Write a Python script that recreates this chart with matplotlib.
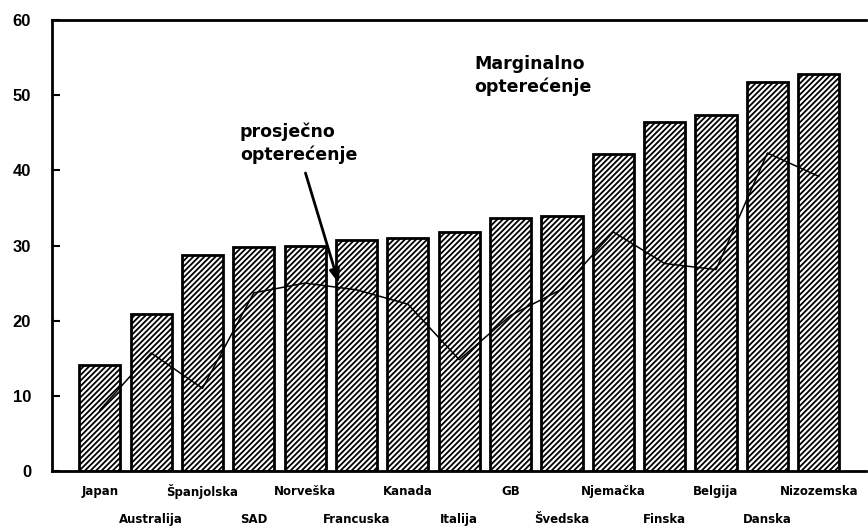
import matplotlib
matplotlib.use("Agg")
import matplotlib.pyplot as plt
import numpy as np

countries = ["Japan", "Australija", "Španjolska", "SAD", "Norveška", "Francuska",
             "Kanada", "Italija", "GB", "Švedska", "Njemačka", "Finska",
             "Belgija", "Danska", "Nizozemska"]
marginalno = [14.1, 20.9, 28.8, 29.8, 29.9, 30.7, 31.0, 31.8, 33.6, 33.9,
              42.2, 46.4, 47.3, 51.7, 52.8]
prosjecno = [8.1, 15.7, 11.0, 23.7, 25.0, 24.1, 22.2, 14.8, 20.7, 24.2,
             31.8, 27.6, 26.8, 42.3, 39.2]
y_ticks = [0, 10, 20, 30, 40, 50, 60]

plt.rcParams['hatch.linewidth'] = 1.3
fig = plt.figure(figsize=(8.68, 5.28), dpi=100)
ax = fig.add_axes([52/868, 57/528, 814/868, 451/528])

x = np.arange(len(countries))
ax.bar(x, marginalno, width=0.8, facecolor="white", edgecolor="black",
       linewidth=2, hatch="//////", zorder=2)
ax.plot(x, prosjecno, color="black", linewidth=1.1, zorder=3)

ax.set_xlim(-0.93, 14.92)
ax.set_ylim(0, 60)
ax.set_yticks(y_ticks)
ax.set_yticklabels([str(t) for t in y_ticks], fontsize=12, fontweight="bold",
                   family="Liberation Sans")
ax.tick_params(axis="y", direction="in", length=6, width=1.5, pad=15)
ax.set_xticks([])
for s in ["left", "top", "bottom"]:
    ax.spines[s].set_linewidth(2)
ax.spines["right"].set_visible(False)

for i, name in enumerate(countries):
    yoff = -14.5 if i % 2 == 0 else -35
    ax.annotate(name, xy=(i, 0), xytext=(0, yoff), textcoords="offset points",
                ha="center", va="center", fontsize=8.5, fontweight="bold",
                family="DejaVu Sans", annotation_clip=False)

ax.text(7.30, 55.3, "Marginalno\nopterećenje", ha="left", va="top",
        fontsize=12.5, fontweight="bold", linespacing=1.3)
ax.text(2.73, 46.3, "prosječno\nopterećenje", ha="left", va="top",
        fontsize=12.5, fontweight="bold", linespacing=1.3)
ax.annotate("", xy=(4.67, 24.6), xytext=(3.99, 40.0),
            arrowprops=dict(arrowstyle="-|>,head_length=0.8,head_width=0.3",
                            color="black", lw=2), zorder=4)

fig.savefig("out.png", dpi=100)
